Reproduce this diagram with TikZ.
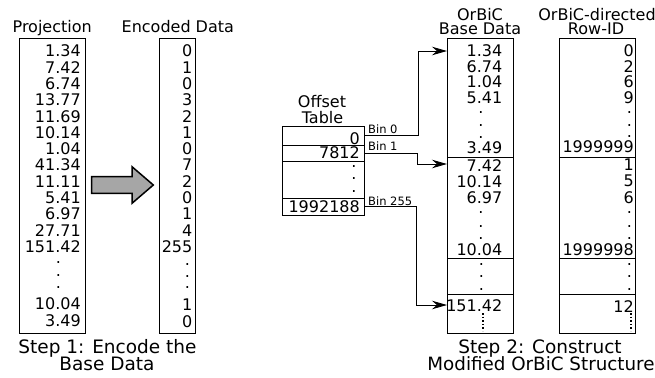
\documentclass[tikz,border=0pt]{standalone}
\usepackage{fontspec}
\setmainfont{DejaVu Sans}
\usetikzlibrary{arrows.meta}
\begin{document}
\begin{tikzpicture}[x=1pt,y=-1pt,
  box/.style={draw=black, line width=0.8pt, inner sep=0pt, outer sep=0pt},
  num/.style={anchor=east, inner sep=0pt, font=\fontsize{16}{16}\selectfont},
  dotc/.style={anchor=center, inner sep=0pt, font=\fontsize{16}{16}\selectfont},
  hdr/.style={anchor=base, inner sep=0pt, font=\fontsize{16}{16}\selectfont},
  captxt/.style={anchor=base, inner sep=0pt, font=\fontsize{18.5}{18.5}\selectfont},
  binlab/.style={anchor=base west, inner sep=0pt, font=\fontsize{11.5}{11.5}\selectfont},
  conn/.style={draw=black, line width=0.8pt, -{Stealth[length=15pt,width=8.5pt,inset=5pt]}},
  vdots/.style={draw=black, line width=1.6pt, dash pattern=on 1.6pt off 2pt},
]
\useasboundingbox (0,0) rectangle (655,377);

% ---------- Step 1: Projection ----------
\node[hdr] (hproj) at (52.2,32.5) {Projection};
\node[box, minimum width=65.7pt, minimum height=294.7pt] (proj) at (52.2,185.7) {};
\foreach \v [count=\i from 0] in {1.34,7.42,6.74,13.77,11.69,10.14,1.04,41.34,11.11,5.41,6.97,27.71,151.42}
  \node[num] (p\i) at (81,51+16.3*\i) {\v};
\node[dotc] (pd1) at (58.3,263) {.};
\node[dotc] (pd2) at (58.3,276) {.};
\node[dotc] (pd3) at (58.3,288) {.};
\node[num] (pA) at (81,304) {10.04};
\node[num] (pB) at (81,321) {3.49};

% ---------- Step 1: Encoded data ----------
\node[hdr] (henc) at (177.8,33) {Encoded Data};
\node[box, minimum width=36.4pt, minimum height=294.7pt] (enc) at (177.5,185.7) {};
\foreach \v [count=\i from 0] in {0,1,0,3,2,1,0,7,2,0,1,4,255}
  \node[num] (e\i) at (192.5,51+16.3*\i) {\v};
\node[dotc] (ed1) at (187.5,265) {.};
\node[dotc] (ed2) at (187.5,277) {.};
\node[dotc] (ed3) at (187.5,288) {.};
\node[num] (eA) at (192.5,305) {1};
\node[num] (eB) at (192.5,322) {0};

% big arrow
\draw[line width=1.5pt, fill=gray!70] (91.7,176.7) -- (132,176.7) -- (132,166.7)
  -- (153.3,185) -- (132,203.3) -- (132,193.3) -- (91.7,193.3) -- cycle;

\node[captxt] (c1a) at (107.5,353.3) {Step 1: Encode the};
\node[captxt] (c1b) at (107,370.7) {Base Data};

% ---------- Offset table ----------
\node[hdr] (hot1) at (322,108) {Offset};
\node[hdr] (hot2) at (322.5,123.3) {Table};
\node[box, minimum width=82pt, minimum height=19pt] (ot0) at (323,135.5) {};
\node[box, minimum width=82pt, minimum height=16pt] (ot1) at (323,153) {};
\node[box, minimum width=82pt, minimum height=37pt] (ot2) at (323,179.5) {};
\node[box, minimum width=82pt, minimum height=17pt] (ot3) at (323,206.5) {};
\node[num] (o0) at (360,139) {0};
\node[num] (o1) at (360,153) {7812};
\node[dotc] (od1) at (354,167) {.};
\node[dotc] (od2) at (354,179) {.};
\node[dotc] (od3) at (354,192) {.};
\node[num] (o3) at (360,207) {1992188};

\node[binlab] (b0) at (368,133) {Bin 0};
\node[binlab] (b1) at (368,150) {Bin 1};
\node[binlab] (b2) at (368,205) {Bin 255};

% ---------- OrBiC base data ----------
\node[hdr] (hob1) at (480,20.7) {OrBiC};
\node[hdr] (hob2) at (480,35) {Base Data};
\node[box, minimum width=66pt, minimum height=119pt] (ob0) at (480,97.5) {};
\node[box, minimum width=66pt, minimum height=101pt] (ob1) at (480,207.5) {};
\node[box, minimum width=66pt, minimum height=36pt] (ob2) at (480,276) {};
\node[box, minimum width=66pt, minimum height=39pt] (ob3) at (480,313.5) {};
\node[num] (ba0) at (502.5,51) {1.34};
\node[num] (ba1) at (502.5,66.5) {6.74};
\node[num] (ba2) at (502.5,82) {1.04};
\node[num] (ba3) at (502.5,97.5) {5.41};
\node[dotc] (bad1) at (481,113) {.};
\node[dotc] (bad2) at (481,126) {.};
\node[dotc] (bad3) at (481,138) {.};
\node[num] (ba4) at (502.5,148) {3.49};
\node[num] (bb0) at (502.5,166) {7.42};
\node[num] (bb1) at (502.5,182) {10.14};
\node[num] (bb2) at (502.5,198) {6.97};
\node[dotc] (bbd1) at (481,213) {.};
\node[dotc] (bbd2) at (481,227) {.};
\node[dotc] (bbd3) at (481,239) {.};
\node[num] (bb3) at (502.5,250) {10.04};
\node[dotc] (bcd1) at (481.5,265) {.};
\node[dotc] (bcd2) at (481.5,277) {.};
\node[dotc] (bcd3) at (481.5,290) {.};
\node[num] (bd0) at (502.5,306) {151.42};
\coordinate (bdv1) at (483,313);
\coordinate (bdv2) at (483,331);
\draw[vdots] (bdv1) -- (bdv2);

% ---------- OrBiC-directed Row-ID ----------
\node[hdr] (hr1) at (597,20.7) {OrBiC-directed};
\node[hdr] (hr2) at (596,35) {Row-ID};
\node[box, minimum width=76pt, minimum height=119pt] (r0) at (597,97.5) {};
\node[box, minimum width=76pt, minimum height=101pt] (r1) at (597,207.5) {};
\node[box, minimum width=76pt, minimum height=36pt] (r2) at (597,276) {};
\node[box, minimum width=76pt, minimum height=39pt] (r3) at (597,313.5) {};
\node[num] (ra0) at (634,51) {0};
\node[num] (ra1) at (634,66.5) {2};
\node[num] (ra2) at (634,82) {6};
\node[num] (ra3) at (634,97.5) {9};
\node[dotc] (rad1) at (629.5,113) {.};
\node[dotc] (rad2) at (629.5,126) {.};
\node[dotc] (rad3) at (629.5,137) {.};
\node[num] (ra4) at (634,147) {1999999};
\node[num] (rb0) at (634,165) {1};
\node[num] (rb1) at (634,181) {5};
\node[num] (rb2) at (634,198) {6};
\node[dotc] (rbd1) at (629.5,213) {.};
\node[dotc] (rbd2) at (629.5,227) {.};
\node[dotc] (rbd3) at (629.5,239) {.};
\node[num] (rb3) at (634,250) {1999998};
\node[dotc] (rcd1) at (629.5,265) {.};
\node[dotc] (rcd2) at (629.5,277) {.};
\node[dotc] (rcd3) at (629.5,290) {.};
\node[num] (rd0) at (634,307) {12};
\coordinate (rdv1) at (631,313);
\coordinate (rdv2) at (631,331);
\draw[vdots] (rdv1) -- (rdv2);

\node[captxt] (c2a) at (540,353.3) {Step 2: Construct};
\node[captxt, font=\fontsize{18.3}{18.3}\selectfont] (c2b) at (541,370.7) {Modified OrBiC Structure};

% ---------- connectors ----------
\coordinate (t0) at (447,51);
\coordinate (t1) at (447,164);
\coordinate (t2) at (447,305);
\draw[conn] (ot0.east) -| ([xshift=-29pt]t0) -- (t0);
\draw[conn] (ot1.east) -| ([xshift=-30pt]t1) -- (t1);
\draw[conn] (ot3.east) -| ([xshift=-31pt]t2) -- (t2);
\end{tikzpicture}
\end{document}
